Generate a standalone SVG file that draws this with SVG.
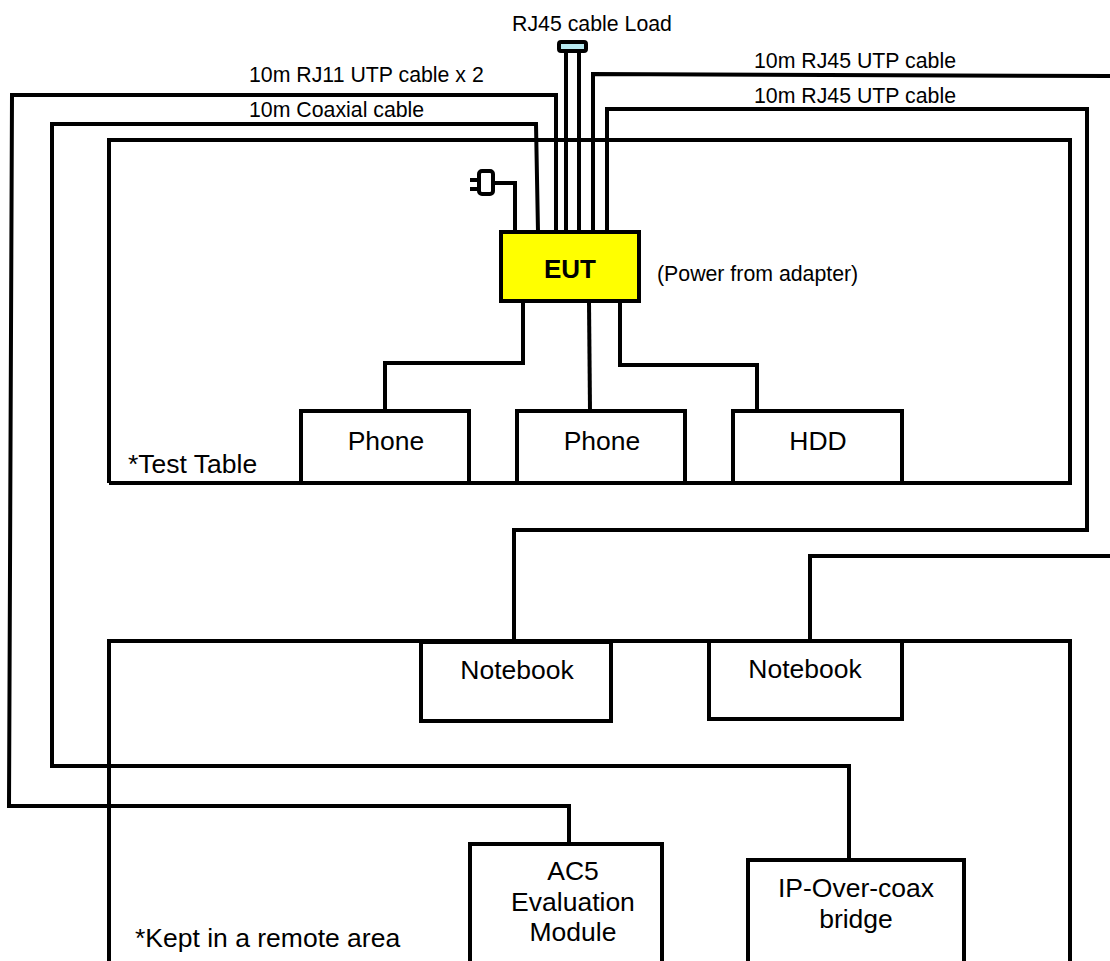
<svg xmlns="http://www.w3.org/2000/svg" width="1110" height="961" viewBox="0 0 1110 961">
<style>
.l{fill:none;stroke:#000;stroke-width:4;stroke-linejoin:miter}
.b{fill:#fff;stroke:#000;stroke-width:4}
text{font-family:"Liberation Sans",Arial,sans-serif;fill:#000}
.s{font-size:21.3px}
.m{font-size:26.5px;text-anchor:middle}
.t{font-size:26.5px}
</style>
<rect width="1110" height="961" fill="#fff"/>
<g id="test-table"><path class="l" d="M109 483V140H1070V483H109"/><text class="t" x="128" y="473">*Test Table</text></g>
<g id="remote-area"><path class="l" d="M109 961V641H1070V961"/><text class="t" x="135" y="947">*Kept in a remote area</text></g>
<g id="connectors">
<path class="l" d="M569 843V806H9L12 95H556V232"/>
<path class="l" d="M849 859V766H52V124H536L538 232"/>
<path class="l" d="M514 641V530H1087V109H607V232"/>
<path class="l" d="M810 641V556H1110"/>
<path class="l" d="M593 232V74L1110 76"/>
<path class="l" d="M566 232V50M579 232V50"/>
<path class="l" d="M515 230V183H493"/>
<path class="l" d="M523 302V363H385V411"/>
<path class="l" d="M589 302L590 411"/>
<path class="l" d="M620 302V365H757V411"/>
</g>
<g id="load"><rect x="559" y="42" width="27" height="9" rx="2" fill="#b7e9f0" stroke="#000" stroke-width="4"/><text class="s" x="592" y="31" text-anchor="middle">RJ45 cable Load</text></g>
<g id="plug"><rect x="479" y="171" width="14" height="23" rx="3" fill="#fff" stroke="#000" stroke-width="4"/><path class="l" d="M470 180H479M470 189H479"/></g>
<g id="eut"><rect x="501" y="232" width="138" height="69" fill="#ff0" stroke="#000" stroke-width="4"/><text x="570" y="278" font-size="26" font-weight="700" text-anchor="middle">EUT</text></g>
<g id="phone1"><rect class="b" x="301" y="411" width="168" height="72"/><text class="m" x="386" y="450">Phone</text></g>
<g id="phone2"><rect class="b" x="517" y="411" width="168" height="72"/><text class="m" x="602" y="450">Phone</text></g>
<g id="hdd"><rect class="b" x="733" y="411" width="169" height="72"/><text class="m" x="818" y="450">HDD</text></g>
<g id="notebook1"><rect class="b" x="421" y="642" width="190" height="79"/><text class="m" x="517" y="679">Notebook</text></g>
<g id="notebook2"><rect class="b" x="709" y="641" width="193" height="78"/><text class="m" x="805" y="678">Notebook</text></g>
<g id="ac5"><rect class="b" x="470" y="844" width="192" height="130"/><text class="m" x="573" y="880">AC5</text><text class="m" x="573" y="911">Evaluation</text><text class="m" x="573" y="941">Module</text></g>
<g id="bridge"><rect class="b" x="748" y="860" width="216" height="115"/><text class="m" x="856" y="897">IP-Over-coax</text><text class="m" x="856" y="928">bridge</text></g>
<g id="labels">
<text class="s" x="249" y="82">10m RJ11 UTP cable x 2</text>
<text class="s" x="249" y="117">10m Coaxial cable</text>
<text class="s" x="754" y="68">10m RJ45 UTP cable</text>
<text class="s" x="754" y="103">10m RJ45 UTP cable</text>
<text class="s" x="657" y="281">(Power from adapter)</text>
</g>
</svg>
